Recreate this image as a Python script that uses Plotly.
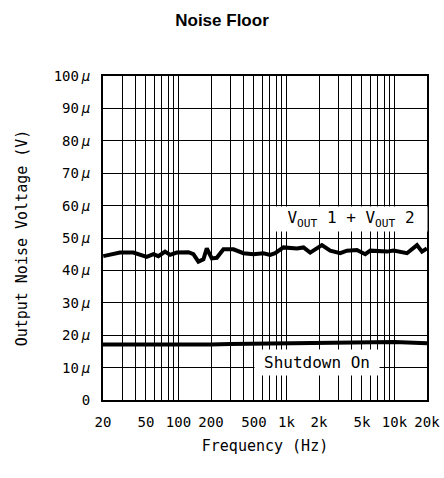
import plotly.graph_objects as go

# Data
freq_vout = [20.1, 28.7, 38.2, 50.8, 58.5, 65.1, 75.1, 83.6, 96.4, 123.5, 137.3, 152.9,
             170.1, 182.8, 203.4, 226.3, 260.6, 322.6, 399.4, 494.3, 611.8, 706, 785.5,
             937.6, 1248, 1437, 1658, 2128, 2540, 3145, 3627, 4490, 5359, 5964, 8518,
             9803, 13050, 16160, 17970, 19950]
noise_vout = [44.4, 45.5, 45.5, 44.2, 45.0, 44.4, 45.8, 44.8, 45.5, 45.6, 45.0, 42.7,
              43.4, 46.8, 43.7, 43.9, 46.5, 46.5, 45.3, 45.0, 45.3, 44.8, 45.3,
              47.1, 46.8, 47.1, 45.5, 47.8, 46.1, 45.3, 46.1, 46.3, 45.0, 46.1, 45.8,
              46.1, 45.3, 47.8, 45.8, 46.8]

freq_sd = [20, 50, 100, 200, 300, 500, 1000, 2000, 3000, 5000, 7000, 10000, 20000]
noise_sd = [17.1, 17.0, 17.0, 17.1, 17.3, 17.4, 17.5, 17.6, 17.8, 18.0, 18.0, 17.9, 17.5]

x_tickvals = [20, 50, 100, 200, 500, 1000, 2000, 5000, 10000, 20000]
x_ticktext = ["20", "50", "100", "200", "500", "1k", "2k", "5k", "10k", "20k"]
y_tickvals = [0, 10, 20, 30, 40, 50, 60, 70, 80, 90, 100]
THIN = "<span style='font-family:Liberation Sans'>\u2009</span>"
y_ticktext = ["0"] + [f"{v}{THIN}<i>µ</i>" for v in y_tickvals[1:]]

# minor log grid lines (2..9 per decade)
grid_x = [m * d for d in (10, 100, 1000, 10000) for m in range(1, 10) if 20 < m * d < 20000]

FONT = "DejaVu Sans Mono"

fig = go.Figure()
fig.add_trace(go.Scatter(x=freq_vout, y=noise_vout, mode="lines",
                         line=dict(color="black", width=4), showlegend=False))
fig.add_trace(go.Scatter(x=freq_sd, y=noise_sd, mode="lines",
                         line=dict(color="black", width=4), showlegend=False))

fig.update_layout(
    width=444, height=478,
    margin=dict(l=103, r=17, t=76, b=78),
    paper_bgcolor="white", plot_bgcolor="white",
    font=dict(family=FONT, size=14, color="black"),
    title=dict(text="<b>Noise Floor</b>", x=0.5, xref="container", y=0.958, yanchor="middle",
               xanchor="center",
               font=dict(family="Liberation Sans", size=17, color="black")),
    showlegend=False,
)
fig.update_xaxes(
    type="log", range=[1.301025, 4.301035], automargin=False,
    tickvals=x_tickvals, ticktext=x_ticktext,
    showgrid=True, gridcolor="black", gridwidth=1.3,
    minor=dict(tickmode="array", tickvals=grid_x, showgrid=True,
               gridcolor="black", gridwidth=1.3, ticks=""),
    showline=True, linecolor="black", linewidth=2, mirror=True,
    ticks="", zeroline=False, ticklabelstandoff=8, ticklabeloverflow="allow",
    tickfont=dict(family=FONT, size=14),
    title=dict(text="Frequency (Hz)", font=dict(family=FONT, size=15), standoff=12),
)
fig.update_yaxes(
    range=[0, 100], tickvals=y_tickvals, ticktext=y_ticktext, automargin=False,
    showgrid=True, gridcolor="black", gridwidth=1.3,
    showline=True, linecolor="black", linewidth=2, mirror=True,
    ticks="", zeroline=False, ticklabelstandoff=8,
    tickfont=dict(family=FONT, size=14),
    title=dict(text="Output Noise Voltage (V)", font=dict(family=FONT, size=15), standoff=22),
)

fig.add_annotation(text="V<sub>OUT</sub> 1 + V<sub>OUT</sub> 2", xref="paper", yref="paper",
                   x=0.765, y=0.560, xanchor="center", yanchor="middle",
                   showarrow=False, bgcolor="white", width=148, height=20,
                   borderpad=2, font=dict(family=FONT, size=16))
fig.add_annotation(text="Shutdown On", xref="paper", yref="paper",
                   x=0.659, y=0.116, xanchor="center", yanchor="middle",
                   showarrow=False, bgcolor="white", width=120, height=21,
                   borderpad=2, font=dict(family=FONT, size=16))

# remove the default page margin so the 444x478 figure fills the window exactly
fig.write_html("out.html", config={"displayModeBar": False},
               post_script="document.body.style.margin='0';document.body.style.overflow='hidden';")
